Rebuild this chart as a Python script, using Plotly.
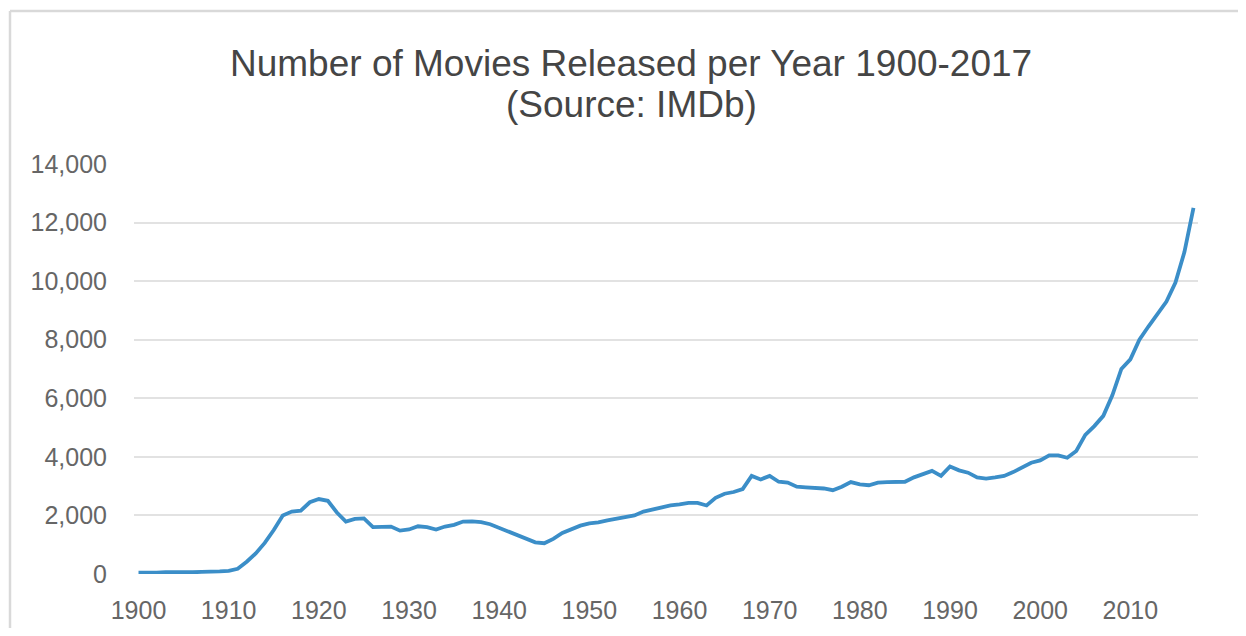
import plotly.graph_objects as go

years = list(range(1900, 2018))
movies = [
    50, 40, 50, 60, 50, 60, 60, 70, 70, 90,            # 1900-1909
    110, 180, 420, 700, 1060, 1500, 2000, 2130, 2160, 2450,  # 1910-1919
    2560, 2500, 2100, 1790, 1880, 1900, 1600, 1620, 1620, 1480,  # 1920-1929
    1520, 1630, 1600, 1520, 1620, 1680, 1790, 1800, 1770, 1700,  # 1930-1939
    1580, 1430, 1320, 1200, 1080, 1050, 1200, 1400, 1520, 1650,  # 1940-1949
    1730, 1760, 1830, 1880, 1940, 2000, 2130, 2200, 2300, 2340,  # 1950-1959
    2380, 2430, 2430, 2340, 2600, 2740, 2800, 2900, 3350, 3230,  # 1960-1969
    3350, 3150, 3120, 2980, 2960, 2950, 2920, 2860, 2980, 3140,  # 1970-1979
    3060, 3030, 3120, 3140, 3140, 3150, 3300, 3400, 3520, 3350,  # 1980-1989
    3670, 3540, 3460, 3300, 3260, 3300, 3350, 3480, 3650, 3800,  # 1990-1999
    3880, 4050, 4050, 3970, 4200, 4750, 5050, 5400, 6100, 7000,  # 2000-2009
    7330, 8000, 8450, 8900, 9300, 9950, 11000, 12500,            # 2010-2017
]
x_ticks = list(range(1900, 2011, 10))
y_ticks = list(range(0, 14001, 2000))
title_line1 = "Number of Movies Released per Year 1900-2017"
title_line2 = "(Source: IMDb)"

# page has an 8px body margin; figure coordinates = page coordinates - 8
OFF = 8
W, H = 1230, 620
L, R, T, B = 134 - OFF, 40, 164 - OFF, 54
pw, ph = W - L - R, H - T - B

def px_x(px):
    return (px - OFF - L) / pw

def px_y(py):
    return (H - B - (py - OFF)) / ph

fig = go.Figure()
fig.add_trace(go.Scatter(
    x=years, y=movies, mode="lines",
    line=dict(color="#3b8ec8", width=3.8),
    hoverinfo="x+y", showlegend=False,
))

font_family = "Liberation Sans, Arial, Helvetica, sans-serif"

fig.update_layout(
    width=W, height=H,
    margin=dict(l=L, r=R, t=T, b=B, pad=0, autoexpand=False),
    paper_bgcolor="white", plot_bgcolor="white",
    font=dict(family=font_family, color="#666666"),
    xaxis=dict(
        range=[1899.5, 2017.5], tickvals=x_ticks,
        ticktext=[str(v) for v in x_ticks],
        showgrid=False, zeroline=False, showline=False, automargin=False,
        ticks="outside", ticklen=14, tickcolor="rgba(0,0,0,0)",
        tickfont=dict(size=25, color="#666666"),
    ),
    yaxis=dict(
        range=[0, 14000], tickvals=y_ticks,
        ticktext=[f"{v:,}" for v in y_ticks],
        showgrid=True, gridcolor="#e2e2e2", gridwidth=1.5,
        zeroline=False, showline=False, automargin=False,
        ticks="outside", ticklen=21, tickcolor="rgba(0,0,0,0)",
        tickfont=dict(size=25, color="#666666"),
    ),
    annotations=[
        dict(text=title_line1, x=px_x(631), y=px_y(63), xref="paper", yref="paper",
             showarrow=False, xanchor="center", yanchor="middle",
             font=dict(size=37, color="#454545", family=font_family)),
        dict(text=title_line2, x=px_x(631), y=px_y(104), xref="paper", yref="paper",
             showarrow=False, xanchor="center", yanchor="middle",
             font=dict(size=37, color="#454545", family=font_family)),
    ],
    shapes=[
        dict(type="line", xref="paper", yref="paper",
             x0=px_x(10), x1=px_x(1260), y0=px_y(11), y1=px_y(11),
             line=dict(color="#d9d9d9", width=2.5)),
        dict(type="line", xref="paper", yref="paper",
             x0=px_x(10), x1=px_x(10), y0=px_y(11), y1=px_y(650),
             line=dict(color="#d9d9d9", width=2.5)),
    ],
)

fig.write_html("out.html")
